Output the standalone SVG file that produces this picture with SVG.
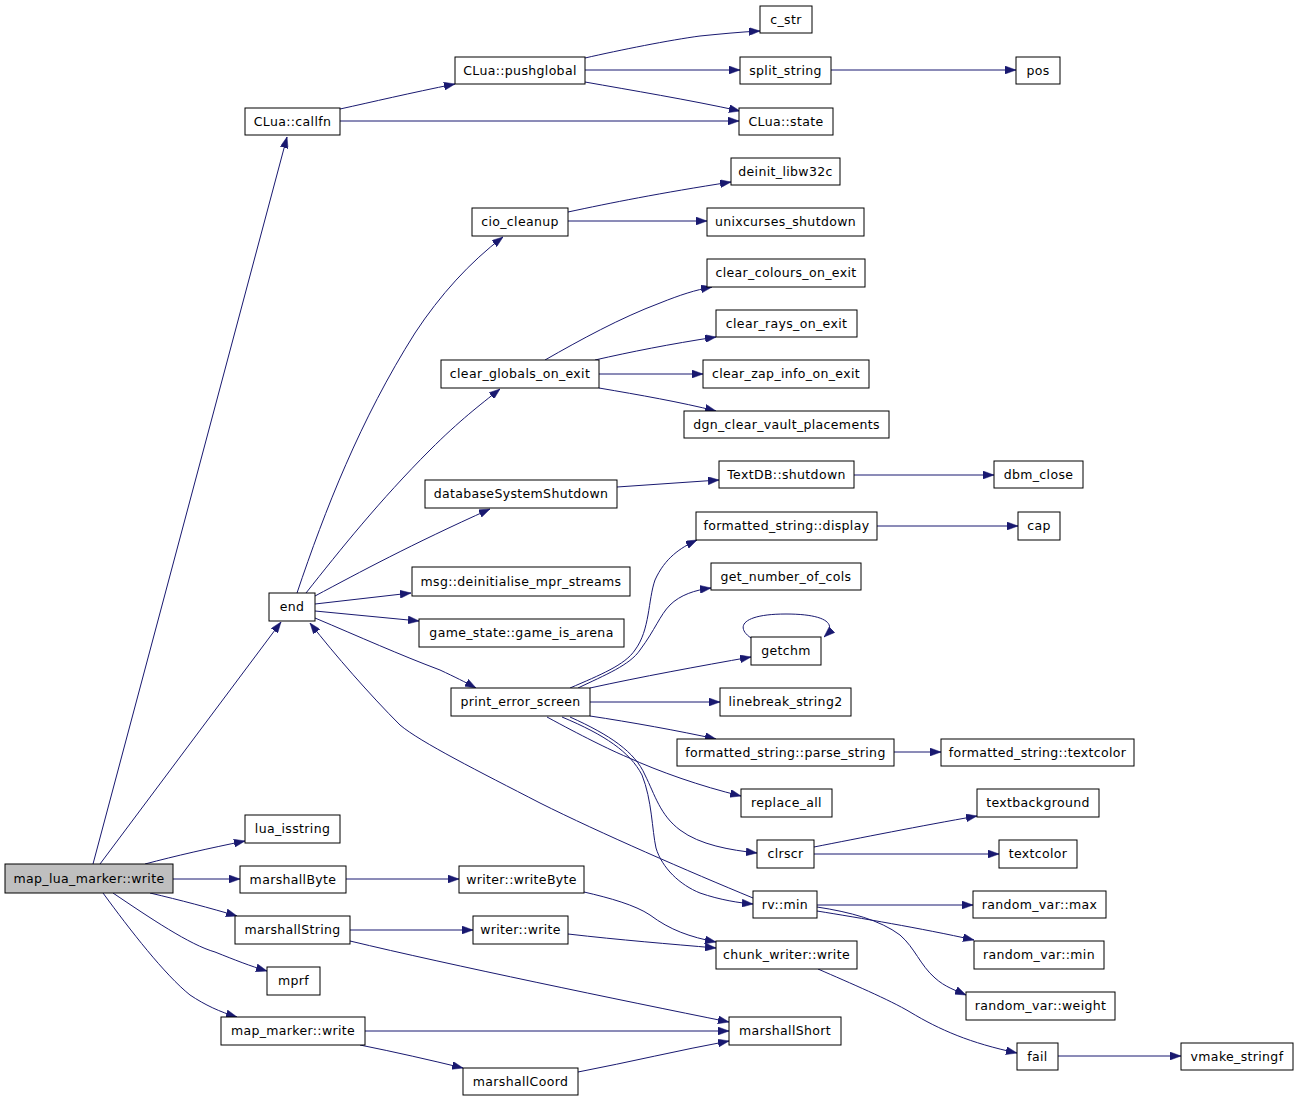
<svg xmlns="http://www.w3.org/2000/svg" width="1299" height="1100" viewBox="0 0 1299 1100">
<style>
rect{fill:#fff;stroke:#000;stroke-width:1}
rect.root{fill:#bfbfbf}
text{font-family:"DejaVu Sans","Liberation Sans",sans-serif;font-size:12.5px;letter-spacing:0.35px;fill:#000;text-anchor:middle}
#edges path{fill:none;stroke:#191970;stroke-width:1;marker-end:url(#arr)}
</style>
<defs>
<marker id="arr" viewBox="0 0 11 8" refX="11" refY="4" markerWidth="11" markerHeight="8" markerUnits="userSpaceOnUse" orient="auto">
<path d="M0,0 L11,4 L0,8 z" fill="#191970" stroke="#191970" stroke-width="0.5"/>
</marker>
</defs>
<rect x="0" y="0" width="1299" height="1100" style="fill:#fff;stroke:none"/>
<g id="edges">
<path d="M93,864 L287,137"/>
<path d="M100,864 L281,622"/>
<path d="M145,864 C175,856 210,848 245,841"/>
<path d="M173,879 L240,879"/>
<path d="M150,893 C180,900 210,908 237,916"/>
<path d="M113,893 C150,918 190,945 215,952 C235,960 250,966 267,971"/>
<path d="M103,893 C130,930 165,975 190,995 C205,1005 220,1012 237,1017"/>
<path d="M340,109 C372,102 410,93 455,84"/>
<path d="M340,121 L739,121"/>
<path d="M585,58 C620,50 670,40 700,36 C720,34 740,32 760,31"/>
<path d="M585,70 L740,70"/>
<path d="M585,82 C630,90 690,100 740,111"/>
<path d="M831,70 L1016,70"/>
<path d="M297,593 C325,510 360,420 415,333 C440,295 470,262 503,237"/>
<path d="M306,593 C340,550 380,500 430,450 C460,420 480,405 500,389"/>
<path d="M315,596 C360,572 410,545 490,509"/>
<path d="M315,604 L411,593"/>
<path d="M315,611 L419,621"/>
<path d="M315,618 C360,637 400,655 440,670 C455,677 465,682 476,688"/>
<path d="M753,898 C690,872 600,833 540,803 C480,772 420,742 400,725 C370,695 335,655 310,623"/>
<path d="M568,212 C610,203 660,193 731,182"/>
<path d="M568,221 L707,221"/>
<path d="M545,360 C580,340 620,318 660,303 C680,295 695,290 712,287"/>
<path d="M595,360 C630,352 670,344 716,337"/>
<path d="M599,374 L703,374"/>
<path d="M599,388 C640,395 680,402 716,411"/>
<path d="M617,487 L719,480"/>
<path d="M854,475 L994,475"/>
<path d="M877,526 L1018,526"/>
<path d="M570,688 C600,675 625,665 635,650 C650,630 648,600 655,580 C665,558 680,548 697,540"/>
<path d="M578,688 C605,675 630,665 640,650 C655,630 660,615 670,605 C680,595 695,590 711,588"/>
<path d="M590,688 C640,677 700,666 751,657"/>
<path d="M751,638 C735,627 742,614 786,614 C826,614 838,624 824,637"/>
<path d="M590,702 L720,702"/>
<path d="M590,716 C630,722 680,731 716,739"/>
<path d="M547,717 C580,735 610,750 627,757 C660,772 700,786 741,796"/>
<path d="M570,717 C610,735 635,752 645,775 C655,795 660,815 680,830 C700,845 730,850 757,853"/>
<path d="M562,717 C605,735 630,752 642,775 C652,800 652,830 656,848 C662,868 680,885 700,893 C720,900 740,903 753,904"/>
<path d="M814,847 C860,838 920,826 977,816"/>
<path d="M814,854 L999,854"/>
<path d="M894,752 L941,752"/>
<path d="M817,905 L973,905"/>
<path d="M817,911 C860,918 920,928 974,940"/>
<path d="M817,907 C850,912 880,920 900,935 C915,948 920,965 935,978 C945,987 955,990 966,995"/>
<path d="M346,879 L459,879"/>
<path d="M350,930 L473,930"/>
<path d="M350,941 C450,965 620,1000 729,1022"/>
<path d="M584,892 C610,898 635,905 650,915 C670,930 690,937 716,942"/>
<path d="M568,934 C620,940 670,944 716,948"/>
<path d="M818,969 C850,983 890,1000 910,1012 C940,1030 970,1043 1017,1053"/>
<path d="M1058,1056 L1181,1056"/>
<path d="M365,1031 L729,1031"/>
<path d="M360,1045 C395,1052 430,1060 463,1068"/>
<path d="M578,1072 C630,1062 680,1050 729,1041"/>
</g>
<g id="n_map_lua_marker_write"><rect class="root" x="5" y="864" width="168" height="29"/><text x="89" y="883">map_lua_marker::write</text></g>
<g id="n_clua_callfn"><rect x="245" y="108" width="95" height="27"/><text x="292.5" y="126">CLua::callfn</text></g>
<g id="n_clua_pushglobal"><rect x="455" y="57" width="130" height="27"/><text x="520" y="75">CLua::pushglobal</text></g>
<g id="n_c_str"><rect x="760" y="6" width="52" height="27"/><text x="786" y="24">c_str</text></g>
<g id="n_split_string"><rect x="740" y="57" width="91" height="27"/><text x="785.5" y="75">split_string</text></g>
<g id="n_pos"><rect x="1016" y="57" width="44" height="27"/><text x="1038" y="75">pos</text></g>
<g id="n_clua_state"><rect x="739" y="108" width="94" height="27"/><text x="786" y="126">CLua::state</text></g>
<g id="n_cio_cleanup"><rect x="472" y="208" width="96" height="28"/><text x="520" y="226">cio_cleanup</text></g>
<g id="n_deinit_libw32c"><rect x="731" y="158" width="109" height="27"/><text x="785.5" y="176">deinit_libw32c</text></g>
<g id="n_unixcurses_shutdown"><rect x="707" y="208" width="157" height="28"/><text x="785.5" y="226">unixcurses_shutdown</text></g>
<g id="n_clear_colours_on_exit"><rect x="707" y="259" width="158" height="28"/><text x="786" y="277">clear_colours_on_exit</text></g>
<g id="n_clear_rays_on_exit"><rect x="716" y="310" width="141" height="27"/><text x="786.5" y="328">clear_rays_on_exit</text></g>
<g id="n_clear_globals_on_exit"><rect x="441" y="360" width="158" height="28"/><text x="520" y="378">clear_globals_on_exit</text></g>
<g id="n_clear_zap_info_on_exit"><rect x="703" y="360" width="166" height="28"/><text x="786" y="378">clear_zap_info_on_exit</text></g>
<g id="n_dgn_clear_vault_placements"><rect x="684" y="411" width="205" height="27"/><text x="786.5" y="429">dgn_clear_vault_placements</text></g>
<g id="n_databaseSystemShutdown"><rect x="425" y="480" width="192" height="28"/><text x="521" y="498">databaseSystemShutdown</text></g>
<g id="n_textdb_shutdown"><rect x="719" y="461" width="135" height="27"/><text x="786.5" y="479">TextDB::shutdown</text></g>
<g id="n_dbm_close"><rect x="994" y="461" width="89" height="27"/><text x="1038.5" y="479">dbm_close</text></g>
<g id="n_fs_display"><rect x="696" y="512" width="181" height="28"/><text x="786.5" y="530">formatted_string::display</text></g>
<g id="n_cap"><rect x="1018" y="512" width="42" height="28"/><text x="1039" y="530">cap</text></g>
<g id="n_get_number_of_cols"><rect x="711" y="563" width="150" height="27"/><text x="786" y="581">get_number_of_cols</text></g>
<g id="n_msg_deinit"><rect x="412" y="567" width="218" height="29"/><text x="521" y="586">msg::deinitialise_mpr_streams</text></g>
<g id="n_game_is_arena"><rect x="419" y="619" width="205" height="28"/><text x="521.5" y="637">game_state::game_is_arena</text></g>
<g id="n_end"><rect x="269" y="593" width="46" height="28"/><text x="292" y="611">end</text></g>
<g id="n_getchm"><rect x="751" y="637" width="70" height="28"/><text x="786" y="655">getchm</text></g>
<g id="n_print_error_screen"><rect x="451" y="688" width="139" height="28"/><text x="520.5" y="706">print_error_screen</text></g>
<g id="n_linebreak_string2"><rect x="720" y="688" width="131" height="28"/><text x="785.5" y="706">linebreak_string2</text></g>
<g id="n_fs_parse_string"><rect x="677" y="739" width="217" height="27"/><text x="785.5" y="757">formatted_string::parse_string</text></g>
<g id="n_fs_textcolor"><rect x="941" y="739" width="193" height="27"/><text x="1037.5" y="757">formatted_string::textcolor</text></g>
<g id="n_replace_all"><rect x="741" y="789" width="91" height="28"/><text x="786.5" y="807">replace_all</text></g>
<g id="n_textbackground"><rect x="977" y="789" width="122" height="28"/><text x="1038" y="807">textbackground</text></g>
<g id="n_clrscr"><rect x="757" y="840" width="57" height="28"/><text x="785.5" y="858">clrscr</text></g>
<g id="n_textcolor"><rect x="999" y="840" width="78" height="28"/><text x="1038" y="858">textcolor</text></g>
<g id="n_rv_min"><rect x="753" y="891" width="64" height="27"/><text x="785" y="909">rv::min</text></g>
<g id="n_random_var_max"><rect x="973" y="891" width="133" height="27"/><text x="1039.5" y="909">random_var::max</text></g>
<g id="n_random_var_min"><rect x="974" y="941" width="130" height="28"/><text x="1039" y="959">random_var::min</text></g>
<g id="n_random_var_weight"><rect x="966" y="992" width="149" height="28"/><text x="1040.5" y="1010">random_var::weight</text></g>
<g id="n_lua_isstring"><rect x="245" y="815" width="95" height="28"/><text x="292.5" y="833">lua_isstring</text></g>
<g id="n_marshallByte"><rect x="240" y="866" width="106" height="27"/><text x="293" y="884">marshallByte</text></g>
<g id="n_writer_writeByte"><rect x="459" y="866" width="125" height="27"/><text x="521.5" y="884">writer::writeByte</text></g>
<g id="n_marshallString"><rect x="235" y="916" width="115" height="28"/><text x="292.5" y="934">marshallString</text></g>
<g id="n_writer_write"><rect x="473" y="916" width="95" height="28"/><text x="520.5" y="934">writer::write</text></g>
<g id="n_chunk_writer_write"><rect x="716" y="941" width="141" height="28"/><text x="786.5" y="959">chunk_writer::write</text></g>
<g id="n_mprf"><rect x="267" y="967" width="53" height="28"/><text x="293.5" y="985">mprf</text></g>
<g id="n_map_marker_write"><rect x="221" y="1017" width="144" height="28"/><text x="293" y="1035">map_marker::write</text></g>
<g id="n_marshallShort"><rect x="729" y="1017" width="112" height="28"/><text x="785" y="1035">marshallShort</text></g>
<g id="n_marshallCoord"><rect x="463" y="1068" width="115" height="27"/><text x="520.5" y="1086">marshallCoord</text></g>
<g id="n_fail"><rect x="1017" y="1043" width="41" height="27"/><text x="1037.5" y="1061">fail</text></g>
<g id="n_vmake_stringf"><rect x="1181" y="1043" width="112" height="27"/><text x="1237" y="1061">vmake_stringf</text></g>
</svg>
